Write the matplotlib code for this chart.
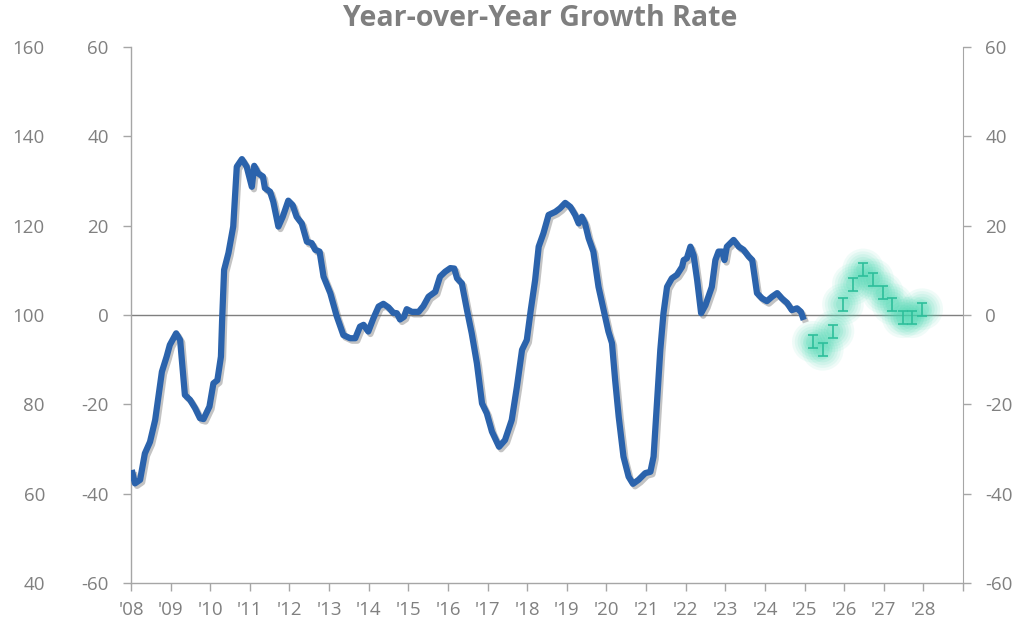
import matplotlib
matplotlib.use("Agg")
import matplotlib.pyplot as plt
import matplotlib.patheffects as pe

plt.rcParams['font.family'] = ['Open Sans', 'DejaVu Sans']
plt.rcParams['axes.unicode_minus'] = False

title = "Year-over-Year Growth Rate"

# Actual year-over-year growth (decimal year, %)
actual_years = [
    2008.02, 2008.10, 2008.23, 2008.35, 2008.48, 2008.61, 2008.78, 2008.90, 2008.98, 2009.14,
    2009.24, 2009.36, 2009.49, 2009.62, 2009.74, 2009.83, 2009.98, 2010.08, 2010.18, 2010.27,
    2010.30, 2010.35, 2010.46, 2010.58, 2010.67, 2010.80, 2010.92, 2011.05, 2011.11, 2011.21,
    2011.33, 2011.38, 2011.51, 2011.59, 2011.72, 2011.83, 2011.97, 2012.08, 2012.18, 2012.31,
    2012.44, 2012.56, 2012.65, 2012.76, 2012.86, 2013.03, 2013.19, 2013.36, 2013.53, 2013.66,
    2013.78, 2013.87, 2013.99, 2014.12, 2014.25, 2014.37, 2014.50, 2014.62, 2014.71, 2014.79,
    2014.89, 2014.96, 2015.09, 2015.26, 2015.38, 2015.51, 2015.68, 2015.80, 2015.93, 2016.06,
    2016.16, 2016.23, 2016.35, 2016.48, 2016.60, 2016.73, 2016.86, 2016.98, 2017.11, 2017.29,
    2017.44, 2017.61, 2017.74, 2017.87, 2017.99, 2018.09, 2018.20, 2018.29, 2018.41, 2018.54,
    2018.71, 2018.83, 2018.96, 2019.09, 2019.21, 2019.30, 2019.38, 2019.46, 2019.55, 2019.67,
    2019.80, 2019.93, 2020.05, 2020.14, 2020.22, 2020.31, 2020.43, 2020.56, 2020.67, 2020.81,
    2020.98, 2021.11, 2021.19, 2021.28, 2021.36, 2021.44, 2021.53, 2021.65, 2021.78, 2021.91,
    2021.95, 2022.03, 2022.12, 2022.20, 2022.29, 2022.39, 2022.50, 2022.66, 2022.75, 2022.83,
    2022.92, 2022.98, 2023.04, 2023.21, 2023.34, 2023.46, 2023.59, 2023.68, 2023.80, 2023.93,
    2024.05, 2024.18, 2024.31, 2024.43, 2024.56, 2024.68, 2024.81, 2024.91, 2024.98,
]
actual_growth = [
    -34.7, -37.7, -36.9, -31.0, -28.4, -23.5, -12.7, -9.3, -6.7, -4.1,
    -5.6, -17.9, -19.0, -20.9, -23.1, -23.3, -20.5, -15.3, -14.6, -9.3,
    -1.1, 10.1, 13.9, 19.8, 33.2, 34.9, 33.2, 28.7, 33.4, 31.7,
    31.0, 28.4, 27.6, 25.4, 19.8, 22.0, 25.6, 24.6, 22.0, 20.5,
    16.4, 16.1, 14.6, 14.2, 8.6, 4.9, -0.2, -4.5, -5.2, -5.2,
    -2.6, -2.2, -3.7, -0.7, 1.9, 2.5, 1.7, 0.5, 0.4, -1.0,
    -0.4, 1.3, 0.7, 0.7, 2.0, 4.1, 5.2, 8.6, 9.7, 10.5,
    10.4, 8.2, 7.1, 1.1, -4.1, -10.8, -19.8, -22.0, -26.1, -29.5,
    -28.0, -23.5, -16.1, -7.8, -5.6, 1.1, 7.8, 15.3, 18.3, 22.4,
    23.1, 23.9, 25.1, 24.2, 22.4, 20.5, 22.0, 20.5, 17.2, 14.2,
    6.3, 1.1, -3.7, -6.3, -14.6, -22.8, -31.7, -36.2, -37.8, -36.9,
    -35.4, -35.1, -31.7, -19.0, -7.8, 0.4, 6.3, 8.2, 9.0, 10.8,
    12.3, 12.7, 15.3, 13.4, 7.8, 0.4, 2.2, 6.3, 12.3, 14.2,
    14.2, 12.3, 15.3, 16.8, 15.3, 14.6, 13.1, 12.3, 4.9, 3.7,
    3.1, 4.1, 4.9, 3.7, 2.7, 1.1, 1.5, 0.7, -1.1,
]

# Quarterly forecast
forecast_years = [2025.21, 2025.46, 2025.73, 2025.97, 2026.22, 2026.48,
                  2026.73, 2026.97, 2027.22, 2027.48, 2027.71, 2027.97]
forecast_growth = [-6.0, -7.8, -3.6, 2.4, 6.9, 10.2, 8.0, 5.0, 2.4, -0.5, -0.5, 1.3]

year_ticks = list(range(2008, 2030))
year_labels = ["'%02d" % (y % 100) for y in range(2008, 2029)] + [""]
inner_ticks = [-60, -40, -20, 0, 20, 40, 60]
outer_ticks = [40, 60, 80, 100, 120, 140, 160]

gray_txt = '#808080'
gray_ax = '#a6a6a6'
blue = '#2b63ac'
teal = '#2dbf9b'
glow = '#45d8b0'
label_size = 13.5

fig = plt.figure(figsize=(10.25, 6.23), dpi=100)
ax = fig.add_axes([131/1025, 1-583/623, (963-131)/1025, (583-47)/623])

ax.set_xlim(2008, 2029)
ax.set_ylim(-60, 60)

# zero line
ax.axhline(0, color='#7f7f7f', lw=1.0, zorder=1)

# actual line with shadow
ax.plot(actual_years, actual_growth, color=blue, lw=4.5, solid_joinstyle='round',
        solid_capstyle='butt', zorder=3,
        path_effects=[pe.SimpleLineShadow(offset=(1.5, -1.8), shadow_color='#555555', alpha=0.35),
                      pe.Normal()])

# forecast glow
for d, a in [(30, 0.08), (26, 0.09), (22, 0.10), (18, 0.12), (14, 0.14), (10, 0.16)]:
    ax.scatter(forecast_years, forecast_growth, s=d**2, color=glow, alpha=a,
               edgecolors='none', zorder=2)
ax.errorbar(forecast_years, forecast_growth, yerr=1.45, fmt='none', ecolor=teal,
            elinewidth=1.2, capsize=3.5, capthick=1.2, zorder=4)

# spines / axes styling
for s in ['top', 'right']:
    ax.spines[s].set_visible(False)
ax.spines['left'].set_color(gray_ax)
ax.spines['bottom'].set_color(gray_ax)
ax.spines['bottom'].set_linewidth(1.0)
ax.spines['left'].set_linewidth(1.0)

ax.set_xticks(year_ticks)
ax.set_xticklabels(year_labels)
ax.set_yticks(inner_ticks)
ax.tick_params(axis='both', colors=gray_ax, labelcolor=gray_txt, labelsize=label_size,
               length=6, width=1.0, direction='out')
ax.tick_params(axis='y', pad=10)
ax.tick_params(axis='x', pad=7)

# right axis
axr = ax.twinx()
axr.set_ylim(-60, 60)
axr.set_yticks(inner_ticks)
for s in ['top', 'left', 'bottom']:
    axr.spines[s].set_visible(False)
axr.spines['right'].set_color(gray_ax)
axr.tick_params(axis='y', colors=gray_ax, labelcolor=gray_txt, labelsize=label_size,
                length=6, width=1.0, pad=10)

# outer left axis (index)
axo = ax.twinx()
axo.set_ylim(40, 160)
axo.set_yticks(outer_ticks)
axo.yaxis.tick_left()
for s in axo.spines.values():
    s.set_visible(False)
axo.tick_params(axis='y', length=0, labelcolor=gray_txt, labelsize=label_size, pad=62,
                left=True, right=False, labelleft=True, labelright=False)

fig.text(540/1025, 1-18/623, title, ha='center', va='center', fontsize=20.5,
         fontweight='bold', color='#7f7f7f')

fig.savefig('out.png', dpi=100, facecolor='white')
